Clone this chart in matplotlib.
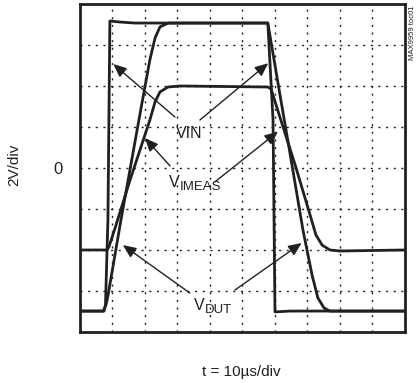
import matplotlib
matplotlib.use("Agg")
import matplotlib.pyplot as plt

# tiempo en us, voltaje en V (2V/div, 10us/div)
vin_t = [0, 7.4, 7.85, 8.6, 9.2, 12.3, 16.9, 57.8, 59.4, 60.0, 64.6, 100]
vin_v = [-6.98, -6.98, -6.68, -2.5, 7.17, 7.12, 7.07, 7.07, 2.34, -7.02, -6.98, -6.98]

vdut_t = [0, 7.1, 8.0, 8.6, 12.6, 18.8, 21.5, 23.1, 24.6, 27.1, 57.8, 61.8, 64.3, 68.6, 71.4, 73.2, 75.1, 76.9, 100]
vdut_v = [-6.98, -6.98, -6.68, -6.24, -2.54, 2.93, 5.27, 6.34, 6.88, 7.07, 7.07, 3.32, 1.02, -3.02, -5.22, -6.34, -6.83, -6.98, -6.98]

vimeas_t = [0, 8.3, 8.9, 10.8, 15.4, 21.5, 23.1, 24.6, 27.1, 30.8, 57.8, 58.8, 61.8, 66.2, 70.8, 72.6, 74.5, 76.9, 80.0, 100]
vimeas_v = [-4.0, -4.0, -3.85, -2.93, -0.59, 2.34, 3.22, 3.71, 3.95, 4.0, 3.95, 3.85, 2.34, 0.15, -2.29, -3.27, -3.76, -4.0, -4.05, -4.0]

INK = '#231f20'
plt.rcParams['font.family'] = ['Liberation Sans', 'DejaVu Sans']

fig = plt.figure(figsize=(4.17, 3.83), dpi=100)
ax = fig.add_axes([0.1918, 0.1332, 0.7794, 0.8564])

for t in range(10, 100, 10):
    ax.axvline(t, color=INK, lw=1, ls=(0, (1.5, 4)))
for v in range(-6, 8, 2):
    ax.axhline(v, color=INK, lw=1, ls=(0, (1.5, 4)))

ax.plot(vin_t, vin_v, color=INK, lw=2)
ax.plot(vdut_t, vdut_v, color=INK, lw=2)
ax.plot(vimeas_t, vimeas_v, color=INK, lw=2)

ax.set_xlim(0, 100)
ax.set_ylim(-8, 8)
ax.set_xticks([])
ax.set_yticks([])
for s in ax.spines.values():
    s.set_linewidth(2)
    s.set_color(INK)

arrow = dict(arrowstyle='-|>,head_length=0.8,head_width=0.35', color=INK, lw=1, shrinkA=0, shrinkB=0)
# VIN
ax.annotate('', xy=(10.25, 5.07), xytext=(29.2, 2.49), arrowprops=arrow)
ax.annotate('', xy=(57.9, 5.11), xytext=(36.9, 2.34), arrowprops=arrow)
ax.text(33.5, 1.46, 'VIN', fontsize=11.5, color=INK, ha='center', va='baseline')
# VIMEAS
ax.annotate('', xy=(20.0, 1.46), xytext=(27.7, 0.1), arrowprops=arrow)
ax.annotate('', xy=(60.9, 1.77), xytext=(41.5, -0.68), arrowprops=arrow)
ax.text(27.5, -0.93, 'V', fontsize=11.5, color=INK, ha='left', va='baseline')
ax.text(30.6, -1.07, 'IMEAS', fontsize=9.5, color=INK, ha='left', va='baseline')
# VDUT
ax.annotate('', xy=(13.2, -3.76), xytext=(33.8, -6.1), arrowprops=arrow)
ax.annotate('', xy=(68.2, -3.66), xytext=(47.7, -5.95), arrowprops=arrow)
ax.text(35.2, -6.93, 'V', fontsize=11.5, color=INK, ha='left', va='baseline')
ax.text(38.3, -7.07, 'DUT', fontsize=9.5, color=INK, ha='left', va='baseline')

fig.text(14.5 / 417, 1 - 165 / 383, '2V/div', rotation=90, fontsize=11, color=INK, ha='center', va='center')
fig.text(57.5 / 417, 1 - 169 / 383, '0', fontsize=12, color=INK, ha='center', va='center')
fig.text(241 / 417, 1 - 372 / 383, 't = 10\u00b5s/div', fontsize=11, color=INK, ha='center', va='center')
fig.text(412 / 417, 1 - 6 / 383, 'MAX9959 toc01', rotation=90, fontsize=5.5, color=INK, ha='center', va='top')

fig.savefig('out.png', dpi=100)
